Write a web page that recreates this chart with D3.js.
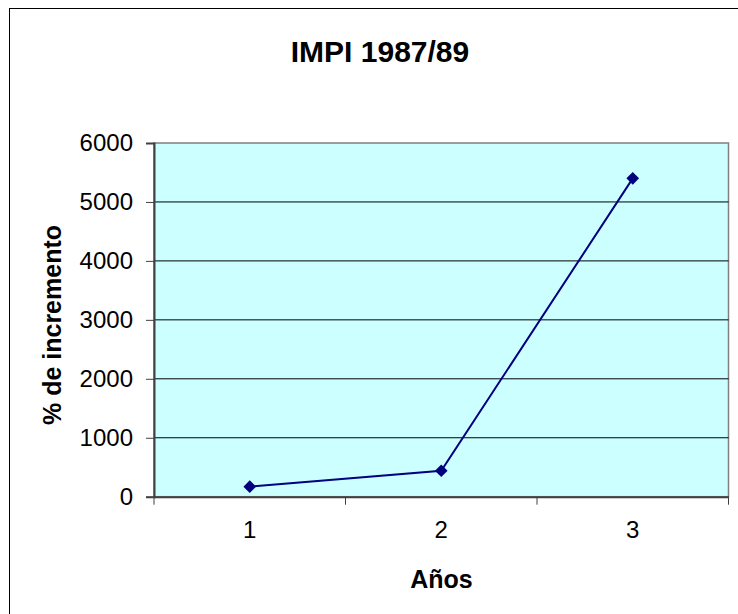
<!DOCTYPE html>
<html><head><meta charset="utf-8">
<script src="https://cdn.jsdelivr.net/npm/d3@7"></script>
<style>body{margin:0;background:#fff}svg{display:block}text{font-family:Arial,"Liberation Sans",sans-serif}</style>
</head><body>
<svg id="c" width="738" height="614"></svg>
<script>
const categories = ["1","2","3"];
const values = [170, 440, 5400];
const yTicks = [0,1000,2000,3000,4000,5000,6000];
const title = "IMPI 1987/89";
const xTitle = "Años";
const yTitle = "% de incremento";

const svg = d3.select("#c");
const L = 154, R = 728.5, T = 143, B = 496.7;

svg.append("rect").attr("x",9.5).attr("y",8.5).attr("width",760).attr("height",640)
  .attr("fill","#fff").attr("stroke","#000").attr("stroke-width",1);

const x = d3.scaleBand().domain(categories).range([L,R]);
const y = d3.scaleLinear().domain([0,6000]).range([B,T]);

svg.append("rect").attr("x",L).attr("y",T).attr("width",R-L).attr("height",B-T)
  .attr("fill","#CCFFFF").attr("stroke","#808080").attr("stroke-width",1.5);

svg.append("g").selectAll("line").data(yTicks.filter(d=>d>0 && d<6000)).join("line")
  .attr("x1",L).attr("x2",R).attr("y1",d=>y(d)).attr("y2",d=>y(d))
  .attr("stroke","#000").attr("stroke-width",1);

// y axis
const ya = svg.append("g").attr("transform",`translate(${L},0)`)
  .call(d3.axisLeft(y).tickValues(yTicks).tickSize(8).tickPadding(13).tickFormat(d3.format("d")));
ya.select(".domain").attr("stroke","#404040").attr("stroke-width",2);
ya.selectAll(".tick line").attr("stroke","#404040");
ya.selectAll("text").attr("font-size",24).attr("fill","#000").attr("font-family","Arial, 'Liberation Sans', sans-serif");

// x axis
const xa = svg.append("g").attr("transform",`translate(0,${B})`)
  .call(d3.axisBottom(x).tickSize(0).tickPadding(24));
xa.select(".domain").attr("stroke","#404040").attr("stroke-width",2);
xa.selectAll("text").attr("font-size",24).attr("fill","#000").attr("font-family","Arial, 'Liberation Sans', sans-serif");
svg.append("g").selectAll("line").data(categories.map((c,i)=>x(c)).concat([R]).slice(1)).join("line")
  .attr("x1",d=>d).attr("x2",d=>d).attr("y1",B).attr("y2",B+8)
  .attr("stroke","#404040").attr("stroke-width",1);
svg.append("line").attr("x1",L).attr("x2",L).attr("y1",B).attr("y2",B+8).attr("stroke","#404040");

// line
const cx = d => x(d)+x.bandwidth()/2;
svg.append("path").datum(values.map((v,i)=>[cx(categories[i]),y(v)]))
  .attr("d",d3.line()).attr("fill","none").attr("stroke","#000080").attr("stroke-width",2);
svg.append("g").selectAll("path").data(values).join("path")
  .attr("d",d3.symbol(d3.symbolSquare,80))
  .attr("transform",(d,i)=>`translate(${cx(categories[i])},${y(d)}) rotate(45)`)
  .attr("fill","#000080");

svg.append("text").attr("x",380).attr("y",62).attr("text-anchor","middle")
  .attr("font-size",30).attr("font-weight","bold").text(title);
svg.append("text").attr("x",441.5).attr("y",588).attr("text-anchor","middle")
  .attr("font-size",25).attr("font-weight","bold").text(xTitle);
svg.append("text").attr("transform","translate(61,325) rotate(-90)").attr("text-anchor","middle")
  .attr("font-size",25).attr("font-weight","bold").text(yTitle);
</script>
</body></html>
